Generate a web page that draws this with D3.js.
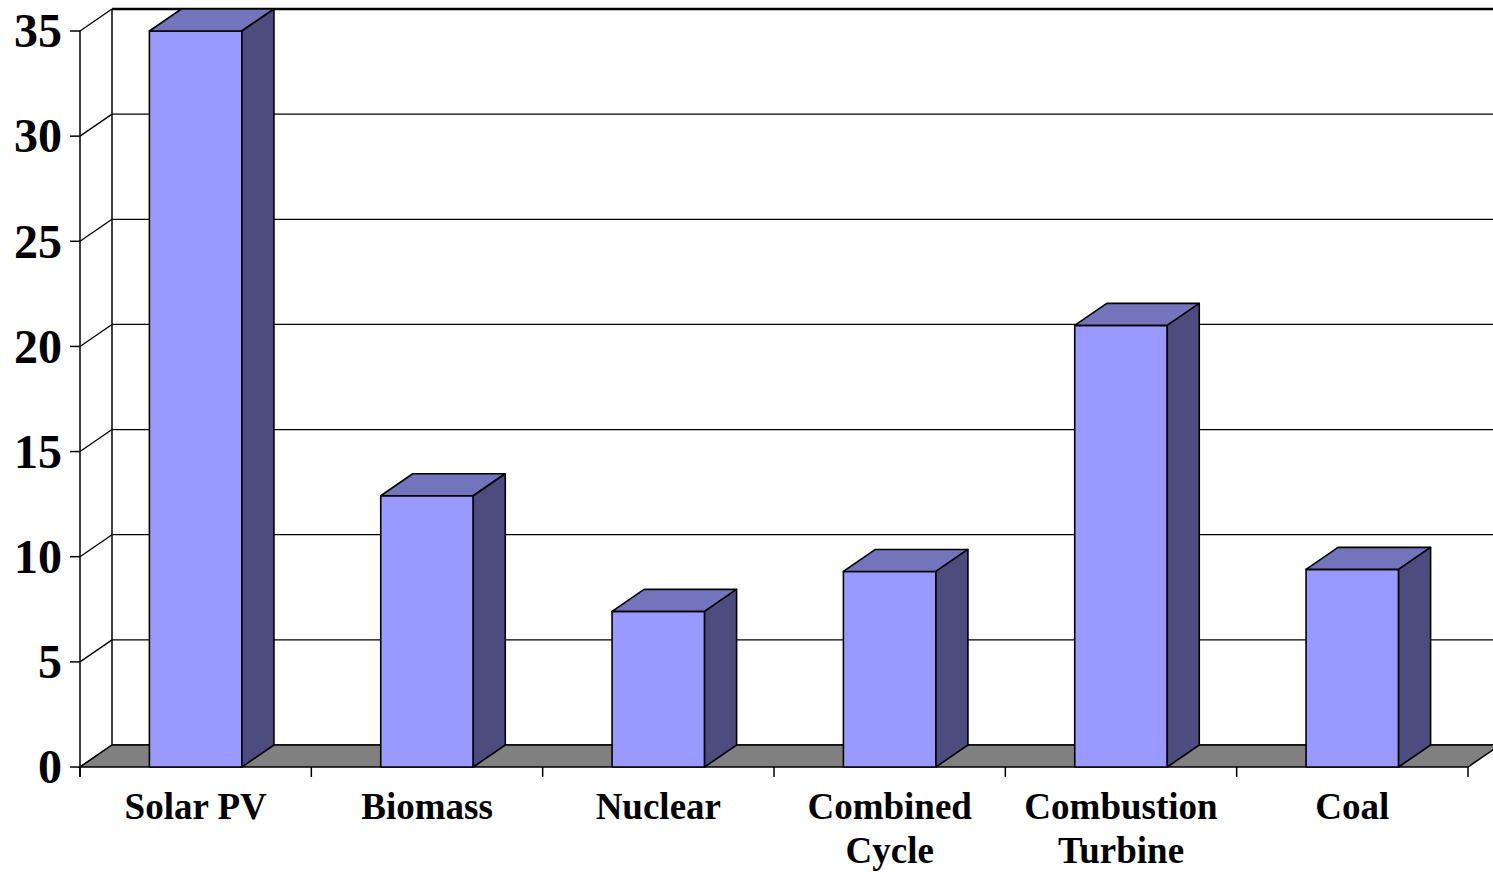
<!DOCTYPE html>
<html>
<head>
<meta charset="utf-8">
<script src="https://cdn.jsdelivr.net/npm/d3@7/dist/d3.min.js"></script>
<style>
  html, body { margin: 0; padding: 0; background: #fff; }
  svg { display: block; }
  text { font-family: "Liberation Serif", "Times New Roman", serif; font-weight: bold; fill: #000; }
</style>
</head>
<body>
<svg id="chart" width="1493" height="872"></svg>
<script>
// Chart data
const categories = [["Solar PV"], ["Biomass"], ["Nuclear"], ["Combined", "Cycle"], ["Combustion", "Turbine"], ["Coal"]];
const values = [35, 12.9, 7.4, 9.3, 21.0, 9.4];
const yTicks = [0, 5, 10, 15, 20, 25, 30, 35];

// Layout of the 3D plot (front plane + depth offset)
const W = 1493, H = 872;
const front = { left: 80, right: 1468, bottom: 767, top: 31 };
const depth = { dx: 32, dy: -22 };
const barRatio = 0.4;

const colors = {
  front: "#9999ff",
  top: "#7474bd",
  side: "#4c4c7e",
  floor: "#808080"
};

const svg = d3.select("#chart");

const keys = categories.map(d => d.join(" "));
const x = d3.scaleBand().domain(keys).range([front.left, front.right]).padding(0);
const y = d3.scaleLinear().domain([0, 35]).range([front.bottom, front.top]);

const line = (pts) => "M" + pts.map(p => p.join(",")).join("L");
const poly = (pts) => line(pts) + "Z";

// Back wall gridlines
const grid = svg.append("g");
yTicks.forEach(v => {
  const yy = y(v) + depth.dy;
  grid.append("line")
    .attr("x1", front.left + depth.dx).attr("x2", W + 10)
    .attr("y1", yy).attr("y2", yy)
    .attr("stroke", "#000")
    .attr("stroke-width", v === 35 ? 2.4 : 1.3);
  // side wall diagonal
  grid.append("line")
    .attr("x1", front.left).attr("y1", y(v))
    .attr("x2", front.left + depth.dx).attr("y2", yy)
    .attr("stroke", "#000").attr("stroke-width", 1.3);
});

// Back wall left edge
grid.append("line")
  .attr("x1", front.left + depth.dx).attr("x2", front.left + depth.dx)
  .attr("y1", y(35) + depth.dy).attr("y2", y(0) + depth.dy)
  .attr("stroke", "#000").attr("stroke-width", 1.5);

// Floor
svg.append("path")
  .attr("d", poly([
    [front.left, front.bottom],
    [front.right, front.bottom],
    [front.right + depth.dx, front.bottom + depth.dy],
    [front.left + depth.dx, front.bottom + depth.dy]
  ]))
  .attr("fill", colors.floor)
  .attr("stroke", "#000").attr("stroke-width", 1.5);

// Front value axis
svg.append("line")
  .attr("x1", front.left).attr("x2", front.left)
  .attr("y1", y(35)).attr("y2", front.bottom + 10)
  .attr("stroke", "#000").attr("stroke-width", 1.5);

const yAxis = svg.append("g");
yTicks.forEach(v => {
  yAxis.append("line")
    .attr("x1", front.left - 10).attr("x2", front.left)
    .attr("y1", y(v)).attr("y2", y(v))
    .attr("stroke", "#000").attr("stroke-width", 1.5);
  yAxis.append("text")
    .attr("x", front.left - 18).attr("y", y(v))
    .attr("text-anchor", "end")
    .attr("dy", "0.34em")
    .style("font-size", "48px")
    .text(v);
});

// Category axis ticks
const tickXs = keys.map(k => x(k)).concat([front.right]);
tickXs.forEach(tx => {
  svg.append("line")
    .attr("x1", tx).attr("x2", tx)
    .attr("y1", front.bottom).attr("y2", front.bottom + 10)
    .attr("stroke", "#000").attr("stroke-width", 1.5);
});

// Bars (front, top, side)
const bars = svg.append("g");
keys.forEach((k, i) => {
  const bw = x.bandwidth() * barRatio;
  const x0 = x(k) + (x.bandwidth() - bw) / 2;
  const x1 = x0 + bw;
  const y0 = y(0);
  const y1 = y(values[i]);
  const g = bars.append("g");
  g.append("path")
    .attr("d", poly([[x0, y0], [x1, y0], [x1, y1], [x0, y1]]))
    .attr("fill", colors.front);
  g.append("path")
    .attr("d", poly([[x0, y1], [x1, y1], [x1 + depth.dx, y1 + depth.dy], [x0 + depth.dx, y1 + depth.dy]]))
    .attr("fill", colors.top);
  g.append("path")
    .attr("d", poly([[x1, y0], [x1 + depth.dx, y0 + depth.dy], [x1 + depth.dx, y1 + depth.dy], [x1, y1]]))
    .attr("fill", colors.side);
  g.selectAll("path")
    .attr("stroke", "#000").attr("stroke-width", 1.6).attr("stroke-linejoin", "round");
});

// Category labels
const labels = svg.append("g");
categories.forEach((lines, i) => {
  const cx = x(keys[i]) + x.bandwidth() / 2;
  const t = labels.append("text")
    .attr("x", cx).attr("y", 819)
    .attr("text-anchor", "middle")
    .style("font-size", "37px");
  lines.forEach((ln, j) => {
    t.append("tspan").attr("x", cx).attr("y", 819 + j * 44).text(ln);
  });
});
</script>
</body>
</html>
